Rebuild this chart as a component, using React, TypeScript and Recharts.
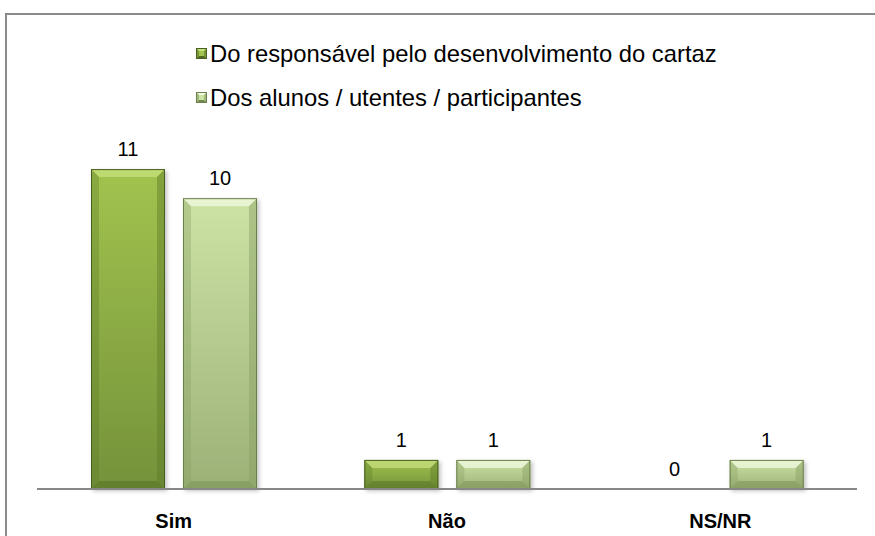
import React from 'react';
import { BarChart, Bar, XAxis, YAxis, LabelList, Legend } from 'recharts';

const categories = ['Sim', 'Não', 'NS/NR'];
const responsavel = [11, 1, 0];
const alunos = [10, 1, 1];
const seriesNames = [
  'Do responsável pelo desenvolvimento do cartaz',
  'Dos alunos / utentes / participantes',
];

const data = categories.map((c, i) => ({ name: c, a: responsavel[i], b: alunos[i] }));

const palettes = {
  a: { id: 'a', top: '#a2c34f', bottom: '#74923a', hi: '#c7e07e', side: '#5d7a26', low: '#4f6a20', line: '#4a5f22' },
  b: { id: 'b', top: '#cde3a6', bottom: '#9bb176', hi: '#f2f9e2', side: '#879e62', low: '#74894f', line: '#6c7f4c' },
};

const FONT = "'Liberation Sans', Arial, sans-serif";

const makeShape = (p: any) => (props: any) => {
  const { x, y, width: w, height: h } = props;
  if (!h || h <= 0.5) return <g />;
  const b = Math.min(8, h / 2, w / 2);
  return (
    <g filter="url(#barShadow)">
      <rect x={x} y={y} width={w} height={h} fill={`url(#grad-${p.id})`} />
      <polygon
        points={`${x},${y} ${x + w},${y} ${x + w - b},${y + b} ${x + b},${y + b}`}
        fill={p.hi}
        opacity={0.75}
      />
      <polygon
        points={`${x},${y} ${x + b},${y + b} ${x + b},${y + h - b} ${x},${y + h}`}
        fill={p.side}
        opacity={0.35}
      />
      <polygon
        points={`${x + w},${y} ${x + w - b},${y + b} ${x + w - b},${y + h - b} ${x + w},${y + h}`}
        fill={p.side}
        opacity={0.45}
      />
      <polygon
        points={`${x},${y + h} ${x + b},${y + h - b} ${x + w - b},${y + h - b} ${x + w},${y + h}`}
        fill={p.low}
        opacity={0.45}
      />
      <rect x={x + 0.5} y={y + 0.5} width={w - 1} height={h - 1} fill="none" stroke={p.line} strokeWidth={1} />
    </g>
  );
};

const Marker = ({ p }: any) => (
  <svg width={11} height={11} style={{ display: 'inline-block', verticalAlign: 'middle', marginRight: 3 }}>
    <rect x={0} y={0} width={11} height={11} fill={p.top} />
    <polygon points="0,0 11,0 8,3 3,3" fill={p.hi} />
    <polygon points="0,11 3,8 8,8 11,11" fill={p.low} />
    <polygon points="0,0 3,3 3,8 0,11" fill={p.side} opacity={0.6} />
    <polygon points="11,0 8,3 8,8 11,11" fill={p.side} opacity={0.6} />
    <rect x={0.5} y={0.5} width={10} height={10} fill="none" stroke={p.line} strokeWidth={1} />
  </svg>
);

const renderLegend = () => (
  <div style={{ fontFamily: FONT, fontSize: 23.8, color: '#000' }}>
    {seriesNames.map((n, i) => (
      <div key={n} style={{ height: 44, lineHeight: '44px', whiteSpace: 'nowrap' }}>
        <Marker p={i === 0 ? palettes.a : palettes.b} />
        <span style={{ verticalAlign: 'middle' }}>{n}</span>
      </div>
    ))}
  </div>
);

const CatTick = (props: any) => {
  const { x, y, payload } = props;
  return (
    <text
      x={x}
      y={y}
      dy={39}
      textAnchor="middle"
      fontFamily="'Liberation Sans Narrow', 'Liberation Sans', Arial, sans-serif"
      fontWeight="bold"
      fontSize={20}
      fill="#000"
    >
      {payload.value}
    </text>
  );
};

export default function App() {
  return (
    <div style={{ position: 'absolute', left: 0, top: 0, width: 875, height: 536, background: '#fff' }}>
      <div
        style={{
          position: 'absolute',
          left: 5,
          top: 13,
          width: 880,
          height: 540,
          borderLeft: '2px solid #8a8a8a',
          borderTop: '2px solid #8a8a8a',
        }}
      />
      <BarChart
        width={875}
        height={536}
        data={data}
        margin={{ top: 140, right: 18, bottom: 17, left: 37 }}
        barCategoryGap={54}
        barGap={18}
      >
        <defs>
          {Object.values(palettes).map((p) => (
            <linearGradient key={p.id} id={`grad-${p.id}`} x1="0" y1="0" x2="0" y2="1">
              <stop offset="0%" stopColor={p.top} />
              <stop offset="100%" stopColor={p.bottom} />
            </linearGradient>
          ))}
          <filter id="barShadow" x="-20%" y="-10%" width="140%" height="130%">
            <feDropShadow dx="2" dy="2" stdDeviation="2" floodColor="#000" floodOpacity="0.25" />
          </filter>
        </defs>
        <XAxis
          dataKey="name"
          axisLine={{ stroke: '#878787', strokeWidth: 2 }}
          tickLine={false}
          tickSize={0}
          tickMargin={0}
          height={30}
          tick={<CatTick />}
          interval={0}
        />
        <YAxis hide domain={[0, 12]} />
        <Legend
          layout="horizontal"
          verticalAlign="middle"
          align="center"
          content={renderLegend}
          wrapperStyle={{ position: 'absolute', top: 30, left: 196, width: 'auto', height: 'auto' }}
        />
        <Bar dataKey="a" name={seriesNames[0]} isAnimationActive={false} shape={makeShape(palettes.a)}>
          <LabelList dataKey="a" position="top" offset={13} fontSize={20} fill="#000" fontFamily={FONT} />
        </Bar>
        <Bar dataKey="b" name={seriesNames[1]} isAnimationActive={false} shape={makeShape(palettes.b)}>
          <LabelList dataKey="b" position="top" offset={13} fontSize={20} fill="#000" fontFamily={FONT} />
        </Bar>
      </BarChart>
    </div>
  );
}
